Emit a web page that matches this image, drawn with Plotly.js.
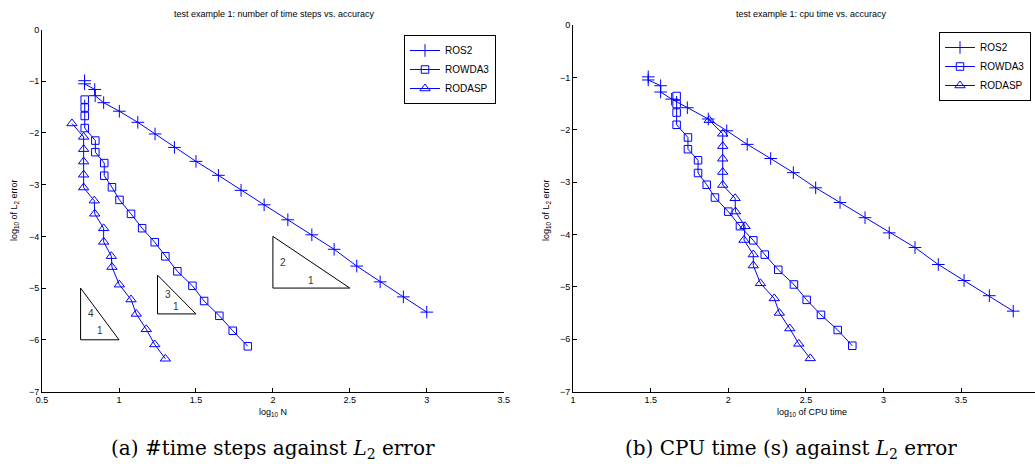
<!DOCTYPE html>
<html>
<head>
<meta charset="utf-8">
<script src="https://cdn.plot.ly/plotly-3.0.1.min.js"></script>
<style>
html,body{margin:0;padding:0;background:#fff;}
#chart{width:1035px;height:470px;}
</style>
</head>
<body>
<div id="chart"></div>
<script>
// ---------- data ----------
const methods = ['ROS2', 'ROWDA3', 'RODASP'];

// (a) log10 N  vs  log10 L2 error
const ros2LogSteps   = [0.776, 0.776, 0.842, 0.845, 0.900, 1.002, 1.122, 1.234, 1.360, 1.500, 1.646, 1.793, 1.943, 2.097, 2.253, 2.398, 2.545, 2.697, 2.848, 3.000];
const rowda3LogSteps = [0.777, 0.777, 0.777, 0.777, 0.846, 0.846, 0.904, 0.904, 0.954, 1.003, 1.078, 1.150, 1.232, 1.301, 1.379, 1.477, 1.553, 1.652, 1.739, 1.837];
const rodaspLogSteps = [0.694, 0.770, 0.770, 0.770, 0.770, 0.770, 0.839, 0.842, 0.900, 0.900, 0.950, 0.954, 1.002, 1.078, 1.112, 1.177, 1.232, 1.301];

// (b) log10 CPU time vs log10 L2 error
const ros2LogCpu   = [1.484, 1.484, 1.564, 1.564, 1.635, 1.736, 1.871, 1.990, 2.122, 2.273, 2.419, 2.563, 2.720, 2.881, 3.037, 3.203, 3.353, 3.519, 3.682, 3.836];
const rowda3LogCpu = [1.667, 1.667, 1.667, 1.667, 1.740, 1.740, 1.805, 1.805, 1.861, 1.914, 2.000, 2.075, 2.161, 2.235, 2.322, 2.423, 2.505, 2.597, 2.705, 2.799];
const rodaspLogCpu = [1.877, 1.964, 1.964, 1.964, 1.964, 1.964, 2.044, 2.046, 2.108, 2.101, 2.161, 2.161, 2.207, 2.296, 2.329, 2.396, 2.454, 2.528];

// log10 of L2 error (shared by both panels)
const ros2LogErr   = [-0.99, -1.05, -1.16, -1.28, -1.415, -1.58, -1.795, -2.02, -2.28, -2.55, -2.82, -3.11, -3.39, -3.68, -3.97, -4.25, -4.575, -4.88, -5.17, -5.465];
const rowda3LogErr = [-1.356, -1.51, -1.672, -1.906, -2.148, -2.372, -2.583, -2.827, -3.051, -3.295, -3.565, -3.842, -4.113, -4.386, -4.676, -4.956, -5.25, -5.536, -5.826, -6.126];
const rodaspLogErr = [-1.817, -2.077, -2.314, -2.554, -2.808, -3.056, -3.31, -3.563, -3.845, -4.107, -4.383, -4.594, -4.934, -5.222, -5.5, -5.797, -6.09, -6.367];

// slope triangles in panel (a)
const slope4X = [0.75, 0.75, 1.0, 0.75],  slope4Y = [-5, -6, -6, -5];
const slope3X = [1.25, 1.25, 1.5, 1.25],  slope3Y = [-4.75, -5.5, -5.5, -4.75];
const slope2X = [2.0, 2.0, 2.5, 2.0],     slope2Y = [-4, -5, -5, -4];
const slopeRise = ['4', '3', '2'];
const slopeRun  = ['1', '1', '1'];

// tick labels
const xTicksA = [0.5, 1, 1.5, 2, 2.5, 3, 3.5];
const xTicksB = [1, 1.5, 2, 2.5, 3, 3.5];
const yTicks  = [0, -1, -2, -3, -4, -5, -6, -7];
const yTickText = ['0', '\u22121', '\u22122', '\u22123', '\u22124', '\u22125', '\u22126', '\u22127'];

// ---------- styling ----------
const BLUE = '#0000ff';
const markerStyles = {
  ROS2:   {symbol: 'cross-thin', size: 9, color: BLUE, line: {color: BLUE, width: 1}},
  ROWDA3: {symbol: 'square-open', size: 7.5, color: BLUE, line: {color: BLUE, width: 1}},
  RODASP: {symbol: 'triangle-up-open', size: 9, color: BLUE, line: {color: BLUE, width: 1}}
};

const panelA = {ROS2: [ros2LogSteps, ros2LogErr], ROWDA3: [rowda3LogSteps, rowda3LogErr], RODASP: [rodaspLogSteps, rodaspLogErr]};
const panelB = {ROS2: [ros2LogCpu, ros2LogErr], ROWDA3: [rowda3LogCpu, rowda3LogErr], RODASP: [rodaspLogCpu, rodaspLogErr]};

const traces = [];
methods.forEach(m => {
  traces.push({
    x: panelA[m][0], y: panelA[m][1], name: m, type: 'scatter', mode: 'lines+markers',
    xaxis: 'x', yaxis: 'y', legend: 'legend',
    line: {color: BLUE, width: 1}, marker: markerStyles[m], hoverinfo: 'skip'
  });
});
methods.forEach(m => {
  traces.push({
    x: panelB[m][0], y: panelB[m][1], name: m, type: 'scatter', mode: 'lines+markers',
    xaxis: 'x2', yaxis: 'y2', legend: 'legend2',
    line: {color: BLUE, width: 1}, marker: markerStyles[m], hoverinfo: 'skip'
  });
});
[[slope4X, slope4Y], [slope3X, slope3Y], [slope2X, slope2Y]].forEach(s => {
  traces.push({
    x: s[0], y: s[1], type: 'scatter', mode: 'lines', xaxis: 'x', yaxis: 'y',
    line: {color: '#000', width: 1}, showlegend: false, hoverinfo: 'skip'
  });
});

const SANS = 'Liberation Sans, Arial, sans-serif';
const tickFont = {family: SANS, size: 9, color: '#000'};

function axisCommon() {
  return {
    showline: true, linecolor: '#000', linewidth: 1, mirror: false,
    ticks: 'inside', ticklen: 4, tickwidth: 1, tickcolor: '#000',
    showgrid: false, zeroline: false, tickfont: tickFont, fixedrange: true
  };
}

const W = 1035, H = 470;
const px = v => v / W, py = v => 1 - v / H;

const annotations = [];
function ann(text, x, y, opts) {
  annotations.push(Object.assign({
    text: text, x: x, y: y, xref: 'paper', yref: 'paper', showarrow: false,
    xanchor: 'center', yanchor: 'middle', font: {family: SANS, size: 9, color: '#000'}
  }, opts || {}));
}
// plot titles
ann('test example 1: number of time steps vs. accuracy', px(274), py(14));
ann('test example 1: cpu time vs. accuracy', px(811), py(14));
// axis titles
ann('log<sub>10</sub> N', px(273), py(412));
ann('log<sub>10</sub> of CPU time', px(812), py(412));
ann('log<sub>10</sub> of L<sub>2</sub> error', px(14), py(210), {textangle: -90});
ann('log<sub>10</sub> of L<sub>2</sub> error', px(546), py(210), {textangle: -90});
// captions
const SERIF = 'DejaVu Serif, Liberation Serif, serif';
ann('(a) #time steps against <i>L</i><sub>2</sub> error', px(273), py(449), {font: {family: SERIF, size: 20, color: '#000'}});
ann('(b) CPU time (s) against <i>L</i><sub>2</sub> error', px(791), py(449), {font: {family: SERIF, size: 20, color: '#000'}});
// slope labels (data coordinates)
const slopeRisePos = [[0.82, -5.5], [1.317, -5.12], [2.064, -4.51]];
const slopeRunPos  = [[0.875, -5.83], [1.373, -5.36], [2.246, -4.86]];
slopeRise.forEach((t, i) => annotations.push({text: t, x: slopeRisePos[i][0], y: slopeRisePos[i][1], xref: 'x', yref: 'y', showarrow: false, font: {family: SANS, size: 10, color: '#333333'}}));
slopeRun.forEach((t, i) => annotations.push({text: t, x: slopeRunPos[i][0], y: slopeRunPos[i][1], xref: 'x', yref: 'y', showarrow: false, font: {family: SANS, size: 10, color: '#333333'}}));

const legendCommon = {
  bgcolor: '#fff', bordercolor: '#000', borderwidth: 1,
  font: {family: SANS, size: 10, color: '#000'},
  xanchor: 'left', yanchor: 'top', tracegroupgap: 0, itemclick: false, itemdoubleclick: false
};

const layout = {
  width: W, height: H,
  margin: {l: 0, r: 0, t: 0, b: 0, pad: 0, autoexpand: false},
  paper_bgcolor: '#fff', plot_bgcolor: '#fff',
  showlegend: true,
  xaxis: Object.assign(axisCommon(), {domain: [px(42.1), px(503.7)], range: [0.5, 3.5], tickmode: 'array', tickvals: xTicksA, ticktext: xTicksA.map(String), anchor: 'y'}),
  yaxis: Object.assign(axisCommon(), {domain: [py(391.5), py(29.5)], range: [-7, 0], tickmode: 'array', tickvals: yTicks, ticktext: yTickText, anchor: 'x'}),
  xaxis2: Object.assign(axisCommon(), {domain: [px(573.1), 1], range: [1, 1 + (W - 573.1) / 155.2], tickmode: 'array', tickvals: xTicksB, ticktext: xTicksB.map(String), anchor: 'y2'}),
  yaxis2: Object.assign(axisCommon(), {domain: [py(391.5), py(25)], range: [-7, 0], tickmode: 'array', tickvals: yTicks, ticktext: yTickText, anchor: 'x2'}),
  legend: Object.assign({}, legendCommon, {x: px(404), y: py(35)}),
  legend2: Object.assign({}, legendCommon, {x: px(939), y: py(32)}),
  annotations: annotations
};

Plotly.newPlot('chart', traces, layout, {displayModeBar: false, staticPlot: true});
</script>
</body>
</html>
